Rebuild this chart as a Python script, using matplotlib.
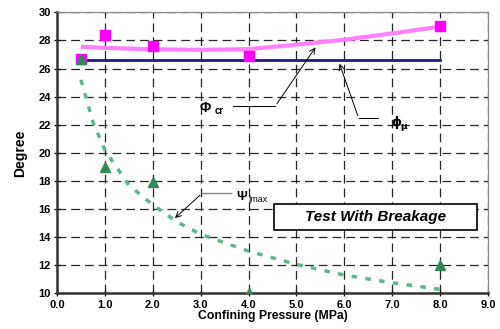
import matplotlib
matplotlib.use("Agg")
import matplotlib.pyplot as plt
from matplotlib.patches import Rectangle

plt.rcParams['font.family'] = ['Liberation Sans', 'DejaVu Sans']

# Data
pressure = [0.5, 1.0, 2.0, 4.0, 8.0]
phi_cr_pts = [26.7, 28.4, 27.6, 26.9, 29.0]
psi_pts = [26.7, 19.0, 17.9, 10.0, 12.0]

phi_cr_fit_x = [0.5, 1.0, 2.0, 3.0, 4.0, 5.0, 6.0, 7.0, 8.0]
phi_cr_fit_y = [27.55, 27.47, 27.37, 27.33, 27.38, 27.7, 28.05, 28.5, 28.98]

phi_mu_x = [0.5, 8.0]
phi_mu_y = [26.6, 26.6]

psi_fit_x = [0.5, 0.75, 1.0, 1.5, 2.0, 2.5, 3.0, 4.0, 5.0, 6.0, 7.0, 8.0]
psi_fit_y = [25.2, 22.2, 20.2, 17.7, 16.3, 15.1, 14.2, 13.0, 12.06, 11.3, 10.75, 10.28]

xticks = [0, 1, 2, 3, 4, 5, 6, 7, 8, 9]
yticks = [10, 12, 14, 16, 18, 20, 22, 24, 26, 28, 30]

fig = plt.figure(figsize=(5.0, 3.29), dpi=100)
ax = fig.add_axes([0.114, 0.1085, 0.862, 0.854])

ax.set_xlim(0, 9)
ax.set_ylim(10, 30)
ax.set_xticks(xticks)
ax.set_xticklabels([f"{t:.1f}" for t in xticks])
ax.set_yticks(yticks)
ax.set_yticklabels([str(t) for t in yticks])

ax.grid(True, color='black', linestyle=(0, (7, 4)), linewidth=0.9, alpha=0.85)
ax.set_axisbelow(True)

for s in ['top', 'right']:
    ax.spines[s].set_color('#888888')
    ax.spines[s].set_linewidth(0.9)
for s in ['left', 'bottom']:
    ax.spines[s].set_color('#333333')
    ax.spines[s].set_linewidth(1.8)

ax.tick_params(axis='both', direction='inout', length=5, width=0.9, labelsize=8, pad=2)
for lab in ax.get_xticklabels() + ax.get_yticklabels():
    lab.set_fontweight('bold')

# Curves
ax.plot(phi_cr_fit_x, phi_cr_fit_y, color='#ff80ff', linewidth=3.0, zorder=3, solid_capstyle='butt')
ax.plot(phi_mu_x, phi_mu_y, color='#1a1a8c', linewidth=2.0, zorder=4)
ax.plot(psi_fit_x, psi_fit_y, color='#5cb88a', linewidth=2.5, linestyle=(0, (1.6, 2.4)), zorder=3)

ax.plot(pressure, phi_cr_pts, linestyle='none', marker='s', markersize=6.5, color='#ff00ff', zorder=5)
ax.plot(pressure, psi_pts, linestyle='none', marker='^', markersize=6.5, color='#2e8b57', zorder=6)

# Annotations
ax.plot([3.68, 4.56], [23.33, 23.33], color='black', linewidth=0.7, zorder=7)
ax.annotate('', xy=(5.43, 27.67), xytext=(4.56, 23.33),
            arrowprops=dict(arrowstyle='->', color='black', lw=0.7), zorder=7)
ax.text(2.97, 23.19, 'Φ', fontsize=10, fontweight='bold', ha='left', va='center')
ax.text(3.30, 22.95, 'cr', fontsize=7, fontweight='bold', ha='left', va='center')

ax.plot([6.71, 6.30], [22.46, 22.46], color='black', linewidth=0.7, zorder=7)
ax.annotate('', xy=(5.88, 26.53), xytext=(6.30, 22.46),
            arrowprops=dict(arrowstyle='->', color='black', lw=0.7), zorder=7)
ax.text(6.98, 22.18, 'ϕ', fontsize=9, fontweight='bold', ha='left', va='center',
        family=['DejaVu Sans'])
ax.text(7.17, 21.85, 'μ', fontsize=6.5, fontweight='bold', ha='left', va='center',
        family=['DejaVu Sans'])

ax.plot([3.64, 3.03], [17.12, 17.12], color='#888888', linewidth=1.0, zorder=7)
ax.annotate('', xy=(2.42, 15.22), xytext=(3.03, 17.12),
            arrowprops=dict(arrowstyle='->', color='black', lw=0.7), zorder=7)
ax.text(3.74, 16.85, 'Ψ', fontsize=9.5, fontweight='bold', ha='left', va='center')
ax.text(3.99, 16.65, '|max', fontsize=6.5, ha='left', va='center')

ax.add_patch(Rectangle((4.525, 14.5), 4.255, 1.83, facecolor='white', edgecolor='black',
                       linewidth=1.2, zorder=8))
ax.text(6.65, 15.43, 'Test With Breakage', fontsize=11, fontweight='bold', fontstyle='italic',
        ha='center', va='center', zorder=9)

ax.set_xlabel('Confining Pressure (MPa)', fontsize=8.8, fontweight='bold', labelpad=0)
ax.set_ylabel('Degree', fontsize=10, fontweight='bold', labelpad=8)

fig.savefig('out.png', dpi=100)
